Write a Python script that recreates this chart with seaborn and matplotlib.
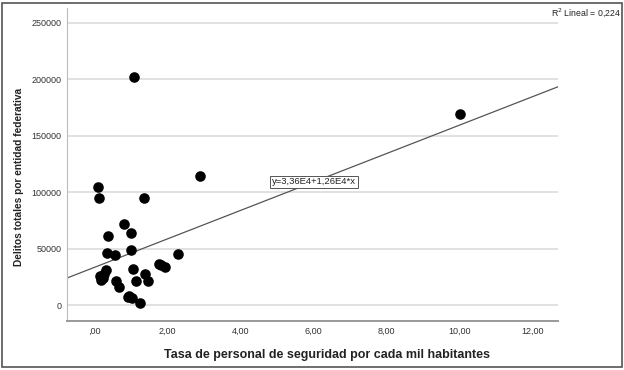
import matplotlib
matplotlib.use("Agg")
import matplotlib.pyplot as plt
import matplotlib.ticker as mticker
from matplotlib.patches import Rectangle
import pandas as pd
import seaborn as sns

# datos (tasa por mil habitantes, delitos totales)
tasa = [1.09, 10.01, 2.90, 0.10, 0.13, 1.36, 0.80, 1.01, 0.37, 0.35,
        0.57, 0.99, 2.29, 1.78, 1.82, 1.94, 1.06, 0.33, 0.27, 0.14,
        0.24, 0.18, 1.39, 1.47, 1.15, 0.59, 0.67, 0.94, 1.02, 0.93, 1.26]
delitos = [202000, 169600, 114400, 104700, 95300, 95300, 72300, 64000, 61300, 46600,
           44500, 48900, 45800, 36900, 35400, 33900, 32500, 31000, 28100, 25900,
           24200, 22700, 27400, 21700, 21700, 21200, 16200, 8400, 6600, 7200, 1800]

# recta de ajuste (SPSS)
intercepto = 3.36e4
pendiente = 1.26e4
r2 = 0.224

y_ticks = [0, 50000, 100000, 150000, 200000, 250000]
x_ticks = [0, 2, 4, 6, 8, 10, 12]

df = pd.DataFrame({"tasa": tasa, "delitos": delitos})

sns.set_style("white")
plt.rcParams['font.family'] = ['Liberation Sans', 'DejaVu Sans']

fig = plt.figure(figsize=(6.24, 3.70), dpi=100)
ax = fig.add_axes([0.1074, 0.1324, 0.7866, 0.8456])

sns.scatterplot(data=df, x="tasa", y="delitos", color="black", s=58,
                edgecolor="black", linewidth=0, ax=ax, zorder=3)

ax.axline((0, intercepto), slope=pendiente, color="#555555", linewidth=0.9, zorder=2)

ax.set_xlim(-0.75, 12.68)
ax.set_ylim(-13900, 263000)
ax.set_yticks(y_ticks)
ax.set_xticks(x_ticks)


def fmt_x(v, pos):
    s = f"{v:.2f}".replace(".", ",")
    return s[1:] if s.startswith("0") else s


ax.xaxis.set_major_formatter(mticker.FuncFormatter(fmt_x))
ax.yaxis.set_major_formatter(mticker.FuncFormatter(lambda v, p: f"{int(v)}"))
ax.tick_params(axis="both", length=0, labelsize=6.5, labelcolor="#333333")
ax.tick_params(axis="x", pad=4)
ax.tick_params(axis="y", pad=4)

ax.yaxis.grid(True, color="#dcdcdc", linewidth=1.2, zorder=0)
ax.set_axisbelow(True)

for s in ["top", "right"]:
    ax.spines[s].set_visible(False)
ax.spines["left"].set_color("#bbbbbb")
ax.spines["bottom"].set_color("#999999")
ax.spines["bottom"].set_linewidth(1.4)

ax.set_xlabel("Tasa de personal de seguridad por cada mil habitantes",
              fontsize=9, fontweight="bold", color="#222222")
ax.xaxis.set_label_coords(0.53, -0.088)
ax.set_ylabel("Delitos totales por entidad federativa",
              fontsize=7.3, fontweight="bold", color="#222222")
ax.yaxis.set_label_coords(-0.087, 0.46)

# etiqueta de la ecuacion sobre la recta
ax.text(6.0, intercepto + pendiente * 6.0, "y=3,36E4+1,26E4*x", fontsize=6.8,
        ha="center", va="center", color="#222222", zorder=4,
        bbox=dict(boxstyle="square,pad=0.2", facecolor="white", edgecolor="#555555", linewidth=0.7))

fig.text(0.995, 0.967, "R$^2$ Lineal = " + f"{r2:.3f}".replace(".", ","),
         fontsize=6.3, ha="right", va="center", color="#222222")

# marco exterior
fig.patches.append(Rectangle((0.004, 0.008), 0.992, 0.984, transform=fig.transFigure,
                             fill=False, edgecolor="#555555", linewidth=1.2))

fig.savefig("out.png", dpi=100)
